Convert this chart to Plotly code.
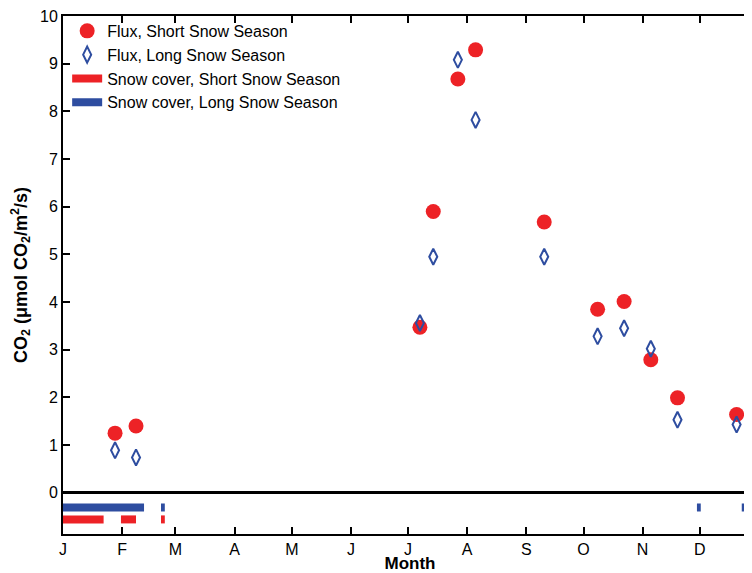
import plotly.graph_objects as go

# Day of year of each flux measurement
flux_days = [27.3, 38.3, 187.2, 194.2, 207.1, 216.4, 252.4, 280.4, 294.3, 308.3, 322.3, 353.3]
flux_short = [1.25, 1.40, 3.47, 5.90, 8.68, 9.29, 5.68, 3.85, 4.01, 2.79, 1.99, 1.64]
flux_long = [0.89, 0.74, 3.56, 4.95, 9.08, 7.82, 4.95, 3.28, 3.45, 3.02, 1.53, 1.43]

# Snow-cover periods (start day, end day)
snow_short = [(0.0, 21.3), (30.4, 38.3), (51.4, 53.4)]
snow_long = [(0.0, 42.5), (51.4, 53.4), (332.5, 334.5), (356.0, 358.0)]
snow_short_level = -0.56
snow_long_level = -0.31

month_days = [0, 31, 59, 90, 120, 151, 181, 212, 243, 273, 304, 334]
month_labels = ["J", "F", "M", "A", "M", "J", "J", "A", "S", "O", "N", "D"]
y_ticks = list(range(0, 11))

RED = "#ED2226"
BLUE = "#2E4DA0"
FONT = "Liberation Sans, Arial, sans-serif"


def segments(periods, level):
    xs, ys = [], []
    for a, b in periods:
        xs += [a, b, None]
        ys += [level, level, None]
    return xs, ys


fig = go.Figure()
fig.add_trace(go.Scatter(
    x=flux_days, y=flux_short, mode="markers", name="Flux, Short Snow Season",
    marker=dict(symbol="circle", size=15, color=RED, line=dict(width=0)),
))
fig.add_trace(go.Scatter(
    x=flux_days, y=flux_long, mode="markers", name="Flux, Long Snow Season",
    marker=dict(symbol="diamond-tall-open", size=11.5, color=BLUE, line=dict(width=2, color=BLUE)),
))
sx, sy = segments(snow_short, snow_short_level)
fig.add_trace(go.Scatter(
    x=sx, y=sy, mode="lines", name="Snow cover, Short Snow Season",
    line=dict(color=RED, width=8),
))
lx, ly = segments(snow_long, snow_long_level)
fig.add_trace(go.Scatter(
    x=lx, y=ly, mode="lines", name="Snow cover, Long Snow Season",
    line=dict(color=BLUE, width=8),
))

fig.update_layout(
    width=752, height=565,
    margin=dict(l=55, r=3, t=8, b=39, autoexpand=False),
    paper_bgcolor="white", plot_bgcolor="white",
    font=dict(family=FONT, size=16, color="black"),
    showlegend=True,
    legend=dict(x=0.006, y=1.004, xanchor="left", yanchor="top",
                bgcolor="rgba(0,0,0,0)", borderwidth=0,
                font=dict(size=16, family=FONT), tracegroupgap=0),
    xaxis=dict(
        range=[0, 364], tickmode="array", tickvals=month_days, ticktext=month_labels,
        ticks="inside", ticklen=7, tickwidth=2, tickcolor="black",
        showline=True, linewidth=2, linecolor="black", mirror="ticks",
        showgrid=False, zeroline=False, automargin=False,
        title=dict(text="Month", font=dict(size=17, family=FONT, weight="bold"), standoff=3),
        tickfont=dict(size=16), ticklabeloverflow="allow",
    ),
    yaxis=dict(
        range=[-0.866, 10], tickmode="array", tickvals=y_ticks,
        ticks="inside", ticklen=7, tickwidth=2, tickcolor="black",
        showline=True, linewidth=2, linecolor="black", mirror="ticks",
        showgrid=False, zeroline=True, zerolinecolor="black", zerolinewidth=2.5,
        automargin=False,
        title=dict(text="CO<sub>2</sub> (μmol CO<sub>2</sub>/m<sup>2</sup>/s)",
                   font=dict(size=18, family=FONT, weight="bold"), standoff=12),
        tickfont=dict(size=16), ticklabeloverflow="allow",
    ),
)

fig.write_html("out.html")
